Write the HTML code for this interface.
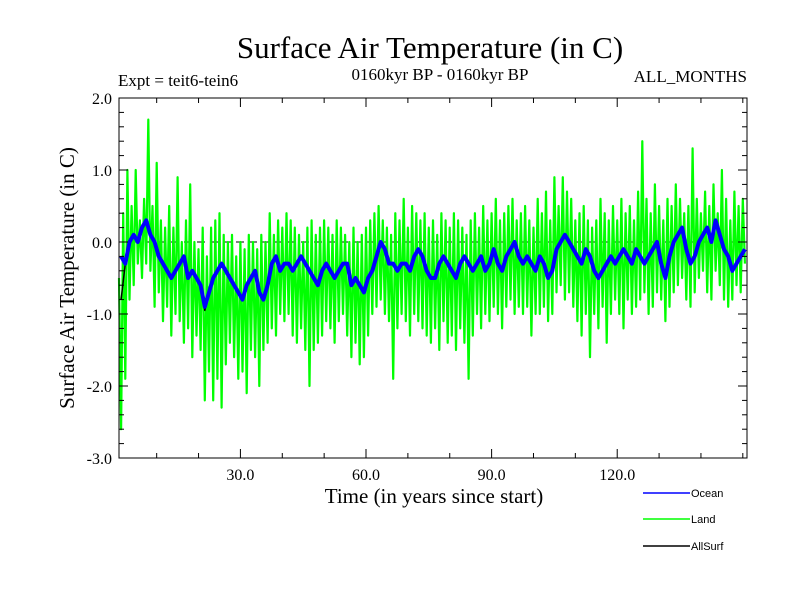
<!DOCTYPE html>
<html><head><meta charset="utf-8"><style>
body{margin:0;background:#fff}
svg{display:block}
text{font-family:"Liberation Serif",serif;fill:#000}
.leg{font-family:"Liberation Sans",sans-serif;font-size:11px}
</style></head><body>
<svg id="chart" width="800" height="600">
<text x="430" y="58" font-size="31" text-anchor="middle">Surface Air Temperature (in C)</text>
<text x="118" y="86" font-size="17">Expt = teit6-tein6</text>
<text x="440" y="80" font-size="17" text-anchor="middle">0160kyr BP - 0160kyr BP</text>
<text x="747" y="82" font-size="17" text-anchor="end">ALL_MONTHS</text>
<text x="434" y="503" font-size="21" text-anchor="middle">Time (in years since start)</text>
<text transform="translate(74,278) rotate(-90)" font-size="21" text-anchor="middle">Surface Air Temperature (in C)</text>
<g id="marks"></g>
<g id="axes"></g>
<g>
<line x1="643" y1="493" x2="690" y2="493" stroke="#0000ff" stroke-width="1.5"/>
<text class="leg" x="691" y="497">Ocean</text>
<line x1="643" y1="519" x2="690" y2="519" stroke="#00ff00" stroke-width="1.5"/>
<text class="leg" x="691" y="523">Land</text>
<line x1="643" y1="546" x2="690" y2="546" stroke="#000" stroke-width="1.5"/>
<text class="leg" x="691" y="550">AllSurf</text>
</g>
</svg>
<script>
const xTickValues=[30,60,90,120];
const xTickLabels=["30.0","60.0","90.0","120.0"];
const yTickValues=[2,1,0,-1,-2,-3];
const yTickLabels=["2.0","1.0","0.0","-1.0","-2.0","-3.0"];
const landValues=[-0.5,-2.6,0.4,-1.9,1.0,-0.8,0.5,-0.6,1.0,-0.3,0.3,-0.5,0.6,-0.3,1.7,-0.4,0.5,-0.9,1.1,-0.7,
0.3,-1.1,0.2,-0.9,0.5,-1.3,0.2,-1.0,0.9,-1.1,0.0,-1.4,0.3,-1.2,0.8,-1.6,0.0,-1.3,-0.1,-1.5,
0.2,-2.2,-0.2,-1.8,0.2,-2.2,0.3,-1.9,0.4,-2.3,0.1,-1.7,0.0,-1.4,0.1,-1.6,-0.2,-1.9,0.0,-1.8,
-0.1,-2.1,0.1,-1.5,0.0,-1.6,-0.1,-2.0,0.1,-1.5,0.0,-1.4,0.4,-1.2,0.1,-1.3,0.3,-1.0,0.2,-1.1,
0.4,-1.0,0.3,-1.3,0.2,-1.4,0.1,-1.2,0.0,-1.5,0.2,-2.0,0.3,-1.5,0.1,-1.4,0.2,-1.3,0.3,-1.1,
0.2,-1.2,0.1,-1.4,0.3,-1.1,0.2,-1.0,0.1,-1.3,0.0,-1.6,0.2,-1.4,0.0,-1.7,0.1,-1.6,0.2,-1.3,
0.3,-1.0,0.4,-0.9,0.5,-0.8,0.3,-1.0,0.2,-1.1,0.1,-1.9,0.4,-1.2,0.3,-1.0,0.6,-1.1,0.2,-1.3,
0.5,-1.0,0.4,-1.1,0.3,-1.2,0.4,-1.3,0.2,-1.4,0.3,-1.2,0.1,-1.5,0.4,-1.1,0.3,-1.4,0.2,-1.3,
0.4,-1.5,0.3,-1.2,0.2,-1.4,0.1,-1.9,0.3,-1.3,0.4,-1.0,0.2,-1.2,0.5,-1.0,0.3,-1.1,0.4,-0.9,
0.6,-1.0,0.3,-1.2,0.4,-0.9,0.5,-0.8,0.6,-1.0,0.3,-0.9,0.4,-1.0,0.5,-0.9,0.3,-1.3,0.2,-1.0,
0.6,-1.0,0.4,-0.9,0.7,-1.1,0.3,-1.0,0.9,-0.7,0.5,-0.6,0.9,-0.8,0.7,-0.7,0.6,-0.9,0.3,-1.1,
0.4,-1.3,0.5,-1.0,0.3,-1.6,0.2,-1.0,0.3,-1.2,0.6,-0.9,0.4,-1.4,0.3,-1.0,0.5,-0.8,0.3,-1.0,
0.6,-1.2,0.4,-0.8,0.5,-1.0,0.3,-0.9,0.7,-0.8,1.4,-0.7,0.6,-1.0,0.4,-0.9,0.8,-0.7,0.5,-0.8,
0.3,-1.1,0.6,-0.9,0.5,-0.7,0.8,-0.6,0.6,-0.5,0.4,-0.8,0.5,-0.9,1.3,-0.7,0.6,-0.5,0.4,-0.4,
0.7,-0.7,0.5,-0.8,0.8,-0.4,0.4,-0.6,1.0,-0.8,0.6,-0.9,0.3,-0.8,0.7,-0.6,0.5,-0.7,0.6,-0.3];
const oceanValues=[-0.2,-0.3,0.0,0.1,0.0,0.2,0.3,0.1,0.0,-0.2,-0.3,-0.4,-0.5,-0.4,-0.3,-0.2,-0.5,-0.4,-0.5,-0.6,
-0.9,-0.7,-0.5,-0.4,-0.3,-0.4,-0.5,-0.6,-0.7,-0.8,-0.6,-0.5,-0.4,-0.7,-0.8,-0.6,-0.3,-0.2,-0.4,-0.3,
-0.3,-0.4,-0.3,-0.2,-0.3,-0.4,-0.5,-0.6,-0.4,-0.3,-0.4,-0.5,-0.4,-0.3,-0.3,-0.6,-0.5,-0.6,-0.7,-0.5,
-0.4,-0.2,0.0,-0.1,-0.3,-0.3,-0.4,-0.3,-0.3,-0.4,-0.2,-0.1,-0.2,-0.4,-0.5,-0.5,-0.3,-0.2,-0.3,-0.4,
-0.5,-0.3,-0.2,-0.3,-0.4,-0.3,-0.2,-0.4,-0.3,-0.1,-0.3,-0.4,-0.2,-0.1,0.0,-0.2,-0.3,-0.2,-0.3,-0.4,
-0.2,-0.3,-0.5,-0.4,-0.1,0.0,0.1,0.0,-0.1,-0.2,-0.3,-0.1,-0.2,-0.4,-0.5,-0.4,-0.3,-0.2,-0.3,-0.2,
-0.1,-0.2,-0.3,-0.1,-0.2,-0.3,-0.2,-0.1,0.0,-0.3,-0.5,-0.2,0.0,0.1,0.2,-0.1,-0.3,-0.2,0.0,0.1,
0.2,0.0,0.3,0.1,-0.1,-0.2,-0.4,-0.3,-0.2,-0.1];
const allSurfValues=[-0.8,-0.3,0.0,0.1,0.0,0.2,0.3,0.1,0.0,-0.2,-0.3,-0.4,-0.5,-0.4,-0.3,-0.2,-0.5,-0.4,-0.5,-0.6,
-0.95,-0.7,-0.5,-0.4,-0.3,-0.4,-0.5,-0.6,-0.7,-0.8,-0.6,-0.5,-0.4,-0.7,-0.8,-0.6,-0.3,-0.2,-0.4,-0.3,
-0.3,-0.4,-0.3,-0.2,-0.3,-0.4,-0.5,-0.6,-0.4,-0.3,-0.4,-0.5,-0.4,-0.3,-0.3,-0.6,-0.5,-0.6,-0.7,-0.5,
-0.4,-0.2,0.0,-0.1,-0.3,-0.3,-0.4,-0.3,-0.3,-0.4,-0.2,-0.1,-0.2,-0.4,-0.5,-0.5,-0.3,-0.2,-0.3,-0.4,
-0.5,-0.3,-0.2,-0.3,-0.4,-0.3,-0.2,-0.4,-0.3,-0.1,-0.3,-0.4,-0.2,-0.1,0.0,-0.2,-0.3,-0.2,-0.3,-0.4,
-0.2,-0.3,-0.5,-0.4,-0.1,0.0,0.1,0.0,-0.1,-0.2,-0.3,-0.1,-0.2,-0.4,-0.5,-0.4,-0.3,-0.2,-0.3,-0.2,
-0.1,-0.2,-0.3,-0.1,-0.2,-0.3,-0.2,-0.1,0.0,-0.3,-0.5,-0.2,0.0,0.1,0.2,-0.1,-0.3,-0.2,0.0,0.1,
0.2,0.0,0.3,0.1,-0.1,-0.2,-0.4,-0.3,-0.2,-0.1];

const NS="http://www.w3.org/2000/svg";
const L=119,R=747,T=98,B=458,XMIN=1,XMAX=151,YMIN=-3,YMAX=2;
function xs(v){return L+(v-XMIN)/(XMAX-XMIN)*(R-L);}
function ys(v){return B-(v-YMIN)/(YMAX-YMIN)*(B-T);}
function mk(tag,attrs,parent){const e=document.createElementNS(NS,tag);for(const k in attrs)e.setAttribute(k,attrs[k]);parent.appendChild(e);return e;}
const marks=document.getElementById('marks'),axes=document.getElementById('axes');

const zl=mk('line',{x1:L,x2:R,y1:ys(0),y2:ys(0),stroke:'#000','stroke-width':1,'stroke-dasharray':'8,5'},marks);



function series(vals,tOf,color,w,name){
  const p=vals.map((v,i)=>xs(tOf(i)).toFixed(1)+','+ys(v).toFixed(1)).join(' ');
  const el=mk('polyline',{points:p,fill:'none',stroke:color,'stroke-width':w,'stroke-linejoin':'round'},marks);
  
  
}
series(landValues,i=>1+i*0.5,'#00ff00',2.2,'land-series');
series(allSurfValues,i=>1.5+i,'#000000',1.5,'allsurf-series');
series(oceanValues,i=>1.5+i,'#0000ff',4,'ocean-series');

const frame=mk('rect',{x:L,y:T,width:R-L,height:B-T,fill:'none',stroke:'#000','stroke-width':1},axes);


for(let v=10;v<=150;v+=10){
  const major=xTickValues.includes(v);
  const len=major?9:5;
  mk('line',{x1:xs(v),x2:xs(v),y1:B,y2:B-len,stroke:'#000'},axes);
  mk('line',{x1:xs(v),x2:xs(v),y1:T,y2:T+len,stroke:'#000'},axes);
}
xTickValues.forEach((v,i)=>{
  const t=mk('text',{x:xs(v),y:480,'font-size':16,'text-anchor':'middle'},axes);
  t.textContent=xTickLabels[i];
  
  
});
for(let k=0;k<=25;k++){
  const v=YMIN+k*0.2;const major=k%5===0;const len=major?9:5;
  mk('line',{x1:L,x2:L+len,y1:ys(v),y2:ys(v),stroke:'#000'},axes);
  mk('line',{x1:R,x2:R-len,y1:ys(v),y2:ys(v),stroke:'#000'},axes);
}
yTickValues.forEach((v,i)=>{
  const t=mk('text',{x:112,y:ys(v)+6,'font-size':16,'text-anchor':'end'},axes);
  t.textContent=yTickLabels[i];
  
  
});
</script>
</body></html>
